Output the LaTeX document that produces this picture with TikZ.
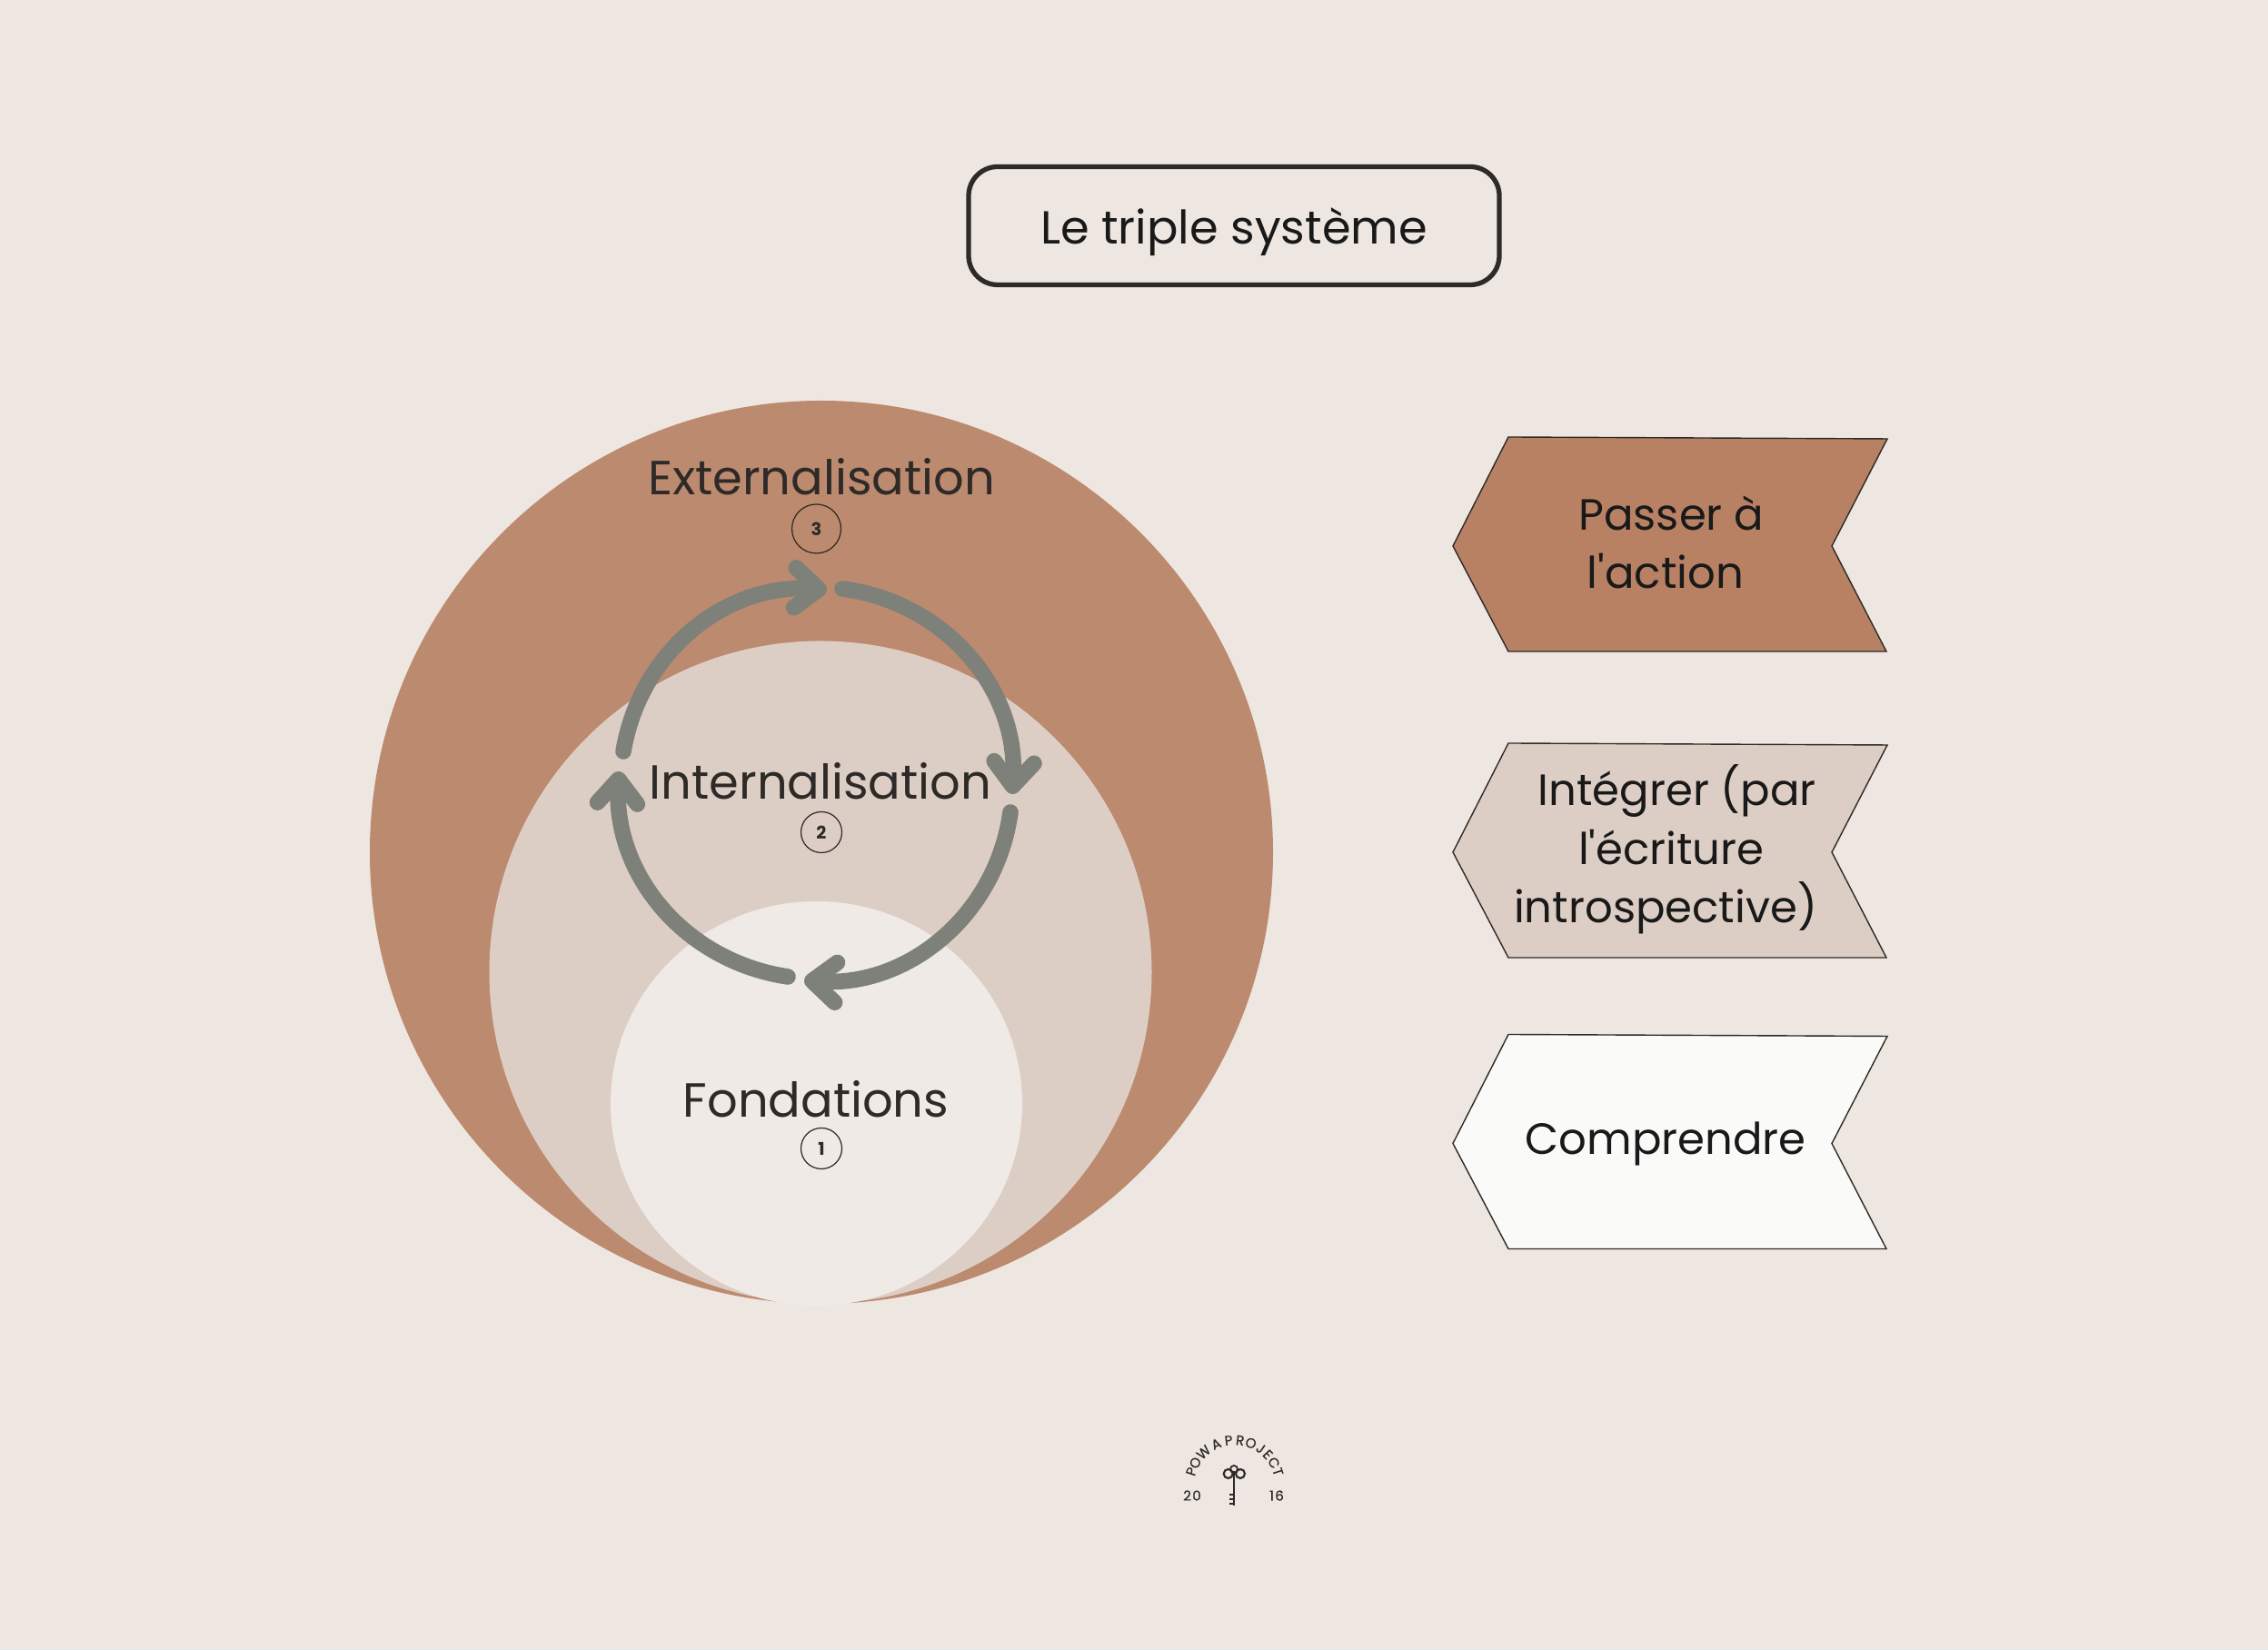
\documentclass[tikz,border=0pt]{standalone}
\usepackage{fontspec}
\setmainfont{Poppins}
\newfontfamily\plainfont{Poppins}
\newfontfamily\logofont[FakeBold=0.4]{Poppins}
\usetikzlibrary{arrows.meta,calc}
\definecolor{pagebg}{HTML}{EEE6E0}
\definecolor{outerbrown}{HTML}{BC8A6E}
\definecolor{midbeige}{HTML}{DDCEC5}
\definecolor{innerwhite}{HTML}{EFEAE6}
\definecolor{cyclegrey}{HTML}{7D8179}
\definecolor{darktext}{HTML}{2E2A27}
\definecolor{actionbrown}{HTML}{B88163}
\definecolor{snowwhite}{HTML}{FAFAF8}

\begin{document}
\begin{tikzpicture}[
    levellabel/.style={font=\fontsize{15}{18}\selectfont, text=darktext, inner sep=0pt},
    numdisc/.style={draw=darktext, line width=0.35pt, circle, inner sep=0pt,
      font=\fontsize{5.5}{6}\bfseries\selectfont, text=darktext},
    boxtext/.style={font=\plainfont\fontsize{13.7}{18.3}\selectfont, text=black!90, align=center, inner sep=0pt},
    chevron/.style={draw=darktext, line width=0.4pt},
    cyclearrow/.style={cyclegrey, line width=5pt, line cap=round,
      -{Straight Barb[length=7.5pt, width=12.5pt, round]}},
    logoletter/.style={font=\logofont\fontsize{4.3}{5}\selectfont, text=darktext, inner sep=0pt}
  ]
  \useasboundingbox (0,0) rectangle (24.96,18.16);
  \fill[pagebg] (0,0) rectangle (24.96,18.16);

  % Nested circles
  \fill[outerbrown] (9.04,8.78) circle (4.97);
  \fill[midbeige] (9.03,7.46) circle (3.645);
  \fill[innerwhite] (8.985,6.015) ellipse (2.265 and 2.225);

  % Title
  \node[draw=darktext, line width=1.5pt, rounded corners=0.32cm, minimum width=5.84cm,
    minimum height=1.30cm, text height=14.5pt, text depth=3pt,
    font=\fontsize{14.5}{18}\selectfont, text=black!90]
    (title) at (13.58,15.675) {Le triple système};

  % Level labels
  \node[levellabel] (externalisation) at (9.04,12.91) {Externalisation};
  \node[numdisc, minimum size=0.54cm] (numthree) at (8.985,12.34) {3};
  \node[levellabel] (internalisation) at (9.03,9.56) {Internalisation};
  \node[numdisc, minimum size=0.45cm] (numtwo) at (9.04,9.00) {2};
  \node[levellabel] (fondations) at (8.98,6.06) {Fondations};
  \node[numdisc, minimum size=0.45cm] (numone) at (9.04,5.52) {1};

  % Cycle
  \coordinate (leftstart) at (6.86,9.89);
  \coordinate (toptip) at (9.10,11.67);
  \coordinate (topstart) at (9.27,11.68);
  \coordinate (righttip) at (11.14,9.42);
  \coordinate (rightstart) at (11.12,9.22);
  \coordinate (bottomtip) at (8.85,7.37);
  \coordinate (bottomstart) at (8.67,7.41);
  \coordinate (lefttip) at (6.81,9.67);
  \draw[cyclearrow] (leftstart) to[bend left=42] (toptip);
  \draw[cyclearrow] (topstart) to[bend left=43] (righttip);
  \draw[cyclearrow] (rightstart) to[bend left=43] (bottomtip);
  \draw[cyclearrow] (bottomstart) to[bend left=42] (lefttip);

  % Chevrons
  \draw[chevron, fill=actionbrown] (15.99,12.15) -- (16.60,13.35) -- (20.77,13.33)
    -- (20.16,12.15) -- (20.76,10.99) -- (16.60,10.99) -- cycle;
  \draw[chevron, fill=midbeige] (15.99,8.78) -- (16.60,9.98) -- (20.77,9.96)
    -- (20.16,8.78) -- (20.76,7.62) -- (16.60,7.62) -- cycle;
  \draw[chevron, fill=snowwhite] (15.99,5.575) -- (16.60,6.775) -- (20.77,6.755)
    -- (20.16,5.575) -- (20.76,4.415) -- (16.60,4.415) -- cycle;
  \node[boxtext] (action) at (18.33,12.19) {\hspace*{3.6pt}Passer à\\l'action};
  \node[boxtext] (integrer) at (18.33,8.81) {\hspace*{7.2pt}Intégrer (par\\\hspace*{3.6pt}l'écriture\\introspective)};
  \node[boxtext] (comprendre) at (18.33,5.57) {Comprendre};

  % Logo
  \foreach \ch/\ang [count=\i] in {P/162,O/150,W/133,A/114,P/97.5,R/83,O/69,J/55,E/43,C/30,T/17.6}
    \node[logoletter, rotate=\ang-90] (logo\i) at ($(13.587,1.81)+(\ang:0.50)$) {\ch};
  \node[logoletter] (logoleft) at (13.12,1.70) {2\kern0.4pt 0};
  \node[logoletter] (logoright) at (14.05,1.70) {1\kern0.4pt 6};
  \draw[darktext, line width=0.5pt] (13.58,1.99) circle (0.04);
  \draw[darktext, line width=0.6pt] (13.517,1.94) circle (0.05) (13.65,1.94) circle (0.05);
  \draw[darktext, line width=0.8pt] (13.58,1.97) -- (13.58,1.59);
  \draw[darktext, line width=0.6pt] (13.53,1.71) -- (13.58,1.71) (13.53,1.66) -- (13.58,1.66) (13.53,1.61) -- (13.58,1.61);
\end{tikzpicture}
\end{document}
